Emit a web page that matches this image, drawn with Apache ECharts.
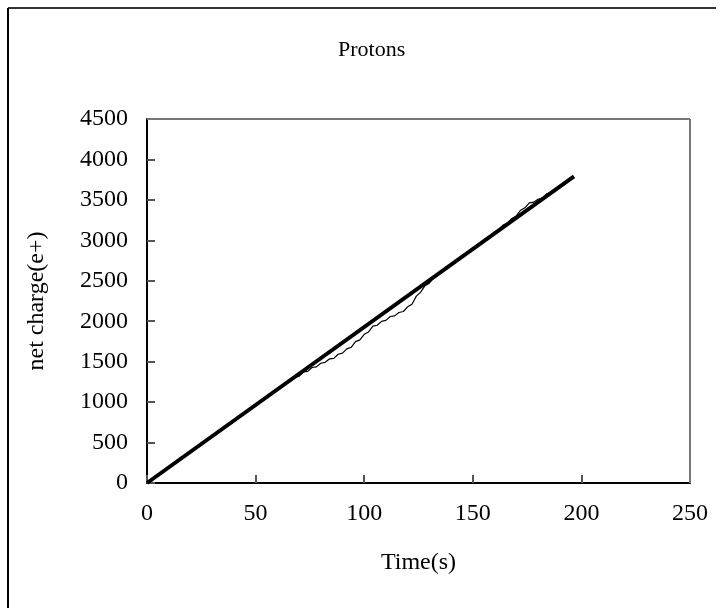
<!DOCTYPE html>
<html>
<head>
<meta charset="utf-8">
<script src="https://cdn.jsdelivr.net/npm/echarts@6/dist/echarts.min.js"></script>
<style>
html,body{margin:0;padding:0;background:#fff;}
#c{width:722px;height:608px;}
</style>
</head>
<body>
<div id="c"></div>
<script>
// Measured data (time in s)
var timeS = [0,2,4,6,8,10,12,14,16,18,20,22,24,26,28,30,32,34,36,38,40,42,44,46,48,50,52,54,56,58,60,62,64,66,68,70,72,74,76,78,80,82,84,86,88,90,92,94,96,98,100,102,104,106,108,110,112,114,116,118,120,122,124,126,128,130,132,134,136,138,140,142,144,146,148,150,152,154,156,158,160,162,164,166,168,170,172,174,176,178,180,182,184,186,188,190,192,194,196];
var netCharge = [5,22,78,112,158,188,246,262,318,342,391,420,470,498,548,576,622,650,702,728,784,800,858,876,930,952,1010,1038,1085,1112,1160,1182,1240,1258,1308,1318,1372,1380,1428,1436,1480,1492,1534,1540,1592,1606,1658,1678,1748,1770,1838,1868,1940,1950,1998,2010,2058,2066,2108,2120,2178,2210,2310,2360,2440,2470,2540,2566,2626,2646,2704,2728,2780,2802,2860,2882,2944,2966,3024,3042,3104,3132,3190,3212,3270,3302,3372,3402,3462,3472,3508,3522,3574,3592,3642,3662,3712,3738,3792];
// Linear fit endpoints
var fitTime = [0, 196.6];
var fitCharge = [0, 3790];
var xTicks = [0,50,100,150,200,250];
var yTicks = [0,500,1000,1500,2000,2500,3000,3500,4000,4500];

var dataPts = timeS.map(function(t,i){return [t, netCharge[i]];});
var fitPts = fitTime.map(function(t,i){return [t, fitCharge[i]];});

var font = '"Liberation Serif", "DejaVu Serif", serif';
var chart = echarts.init(document.getElementById('c'), null, {renderer:'canvas'});
chart.setOption({
  backgroundColor:'#fff',
  animation:false,
  title:{
    text:'Protons', left:333, top:34,
    textStyle:{fontFamily:font, fontSize:22, fontWeight:'normal', color:'#000'}
  },
  graphic:[
    {type:'line', shape:{x1:8,y1:8,x2:716,y2:8}, style:{stroke:'#333', lineWidth:2}},
    {type:'line', shape:{x1:8,y1:8,x2:8,y2:608}, style:{stroke:'#000', lineWidth:2}},
    {type:'line', shape:{x1:147,y1:119,x2:690,y2:119}, style:{stroke:'#777', lineWidth:2}, z:10},
    {type:'line', shape:{x1:690,y1:119,x2:690,y2:483}, style:{stroke:'#777', lineWidth:2}, z:10}
  ],
  grid:{left:147, top:119, right:32, bottom:125, containLabel:false},
  xAxis:{
    type:'value', min:xTicks[0], max:xTicks[xTicks.length-1], interval:50,
    name:'Time(s)', nameLocation:'middle', nameGap:68,
    nameTextStyle:{fontFamily:font, fontSize:24, color:'#000'},
    axisLine:{show:true, onZero:false, lineStyle:{color:'#000', width:2}},
    axisTick:{show:true, inside:true, length:8, lineStyle:{color:'#555', width:2}},
    axisLabel:{margin:19, fontFamily:font, fontSize:24, color:'#000', formatter:function(v){return String(v);}},
    splitLine:{show:false}
  },
  yAxis:{
    type:'value', min:yTicks[0], max:yTicks[yTicks.length-1], interval:500,
    name:'net charge(e+)', nameLocation:'middle', nameGap:98, nameRotate:90,
    nameTextStyle:{fontFamily:font, fontSize:24, color:'#000'},
    axisLine:{show:true, onZero:false, lineStyle:{color:'#000', width:2}},
    axisTick:{show:true, inside:true, length:8, lineStyle:{color:'#555', width:2}},
    axisLabel:{margin:19, fontFamily:font, fontSize:24, color:'#000', formatter:function(v){return String(v);}},
    splitLine:{show:false}
  },
  series:[
    {type:'line', data:dataPts, showSymbol:false, symbol:'none',
     lineStyle:{color:'#000', width:1.2}, z:3},
    {type:'line', data:fitPts, showSymbol:false, symbol:'none',
     lineStyle:{color:'#000', width:4}, z:4}
  ]
});
</script>
</body>
</html>
